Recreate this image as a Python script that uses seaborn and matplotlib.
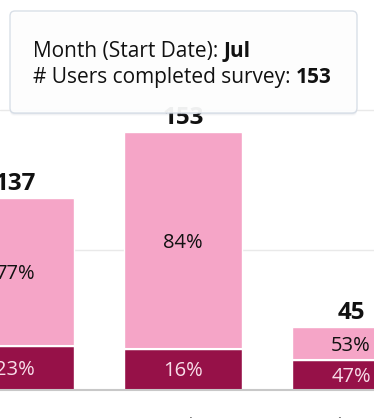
import matplotlib
matplotlib.use("Agg")
import matplotlib.pyplot as plt
from matplotlib.patches import FancyBboxPatch
from matplotlib.transforms import IdentityTransform
import pandas as pd
import seaborn as sns

# data
months = ["Jun", "Jul", "Aug"]
bar_totals = [137, 184, 45]        # drawn bar heights
total_labels = [137, 153, 45]      # numbers printed above the bars
pct_dark = [23, 16, 47]
pct_light = [77, 84, 53]
tooltip_month = "Jul"
tooltip_users = 153

PINK = "#f5a5c7"
MAROON = "#961148"

sns.set_theme(style="white")
plt.rcParams["font.family"] = ["Open Sans", "DejaVu Sans"]

df = pd.DataFrame({"month": months, "total": bar_totals})
df["dark"] = [t * p / 100 for t, p in zip(bar_totals, pct_dark)]

fig = plt.figure(figsize=(3.74, 4.18), dpi=100)
ax = fig.add_axes([0, 28 / 418, 1, 390 / 418])

sns.barplot(data=df, x="month", y="total", color=PINK, width=0.70,
            saturation=1, errorbar=None, ax=ax, zorder=2)
sns.barplot(data=df, x="month", y="dark", color=MAROON, width=0.70,
            saturation=1, errorbar=None, ax=ax, zorder=3)

ax.set_xlim(-15 / 168, 359 / 168)
ax.set_ylim(0, 390 / 1.4)
ax.set_yticks([100, 200])
ax.yaxis.grid(True, color="#e9e9e9", lw=1)
ax.set_axisbelow(True)
ax.tick_params(axis="y", labelleft=False, length=0)
ax.tick_params(axis="x", length=0, pad=19, labelsize=13.5, labelcolor="#777777")
ax.set_xlabel("")
ax.set_ylabel("")
for side in ["left", "right", "top"]:
    ax.spines[side].set_visible(False)
ax.spines["bottom"].set_color("#c8c8c8")
ax.spines["bottom"].set_linewidth(1.5)
ax.spines["bottom"].set_zorder(5)

dark_bars = ax.containers[1]
for i, p in enumerate(dark_bars):
    x0, w, h = p.get_x(), p.get_width(), p.get_height()
    cx = x0 + w / 2
    top = bar_totals[i]
    # white separator between the two segments
    ax.plot([x0, x0 + w], [h, h], color="white", lw=1.5, zorder=4)
    ax.annotate(f"{pct_dark[i]}%", (cx, h / 2), xytext=(0, -5),
                textcoords="offset points", ha="center", va="baseline",
                fontsize=14.5, color="#f8dde9", zorder=6)
    ax.annotate(f"{pct_light[i]}%", (cx, (h + top) / 2), xytext=(0, -5),
                textcoords="offset points", ha="center", va="baseline",
                fontsize=14.5, color="#111111", zorder=6)
    ax.annotate(str(total_labels[i]), (cx, top), xytext=(0, 6),
                textcoords="offset points", ha="center", va="baseline",
                fontsize=17.5, fontweight="bold", color="#111111", zorder=6)

# tooltip, in pixel coordinates (origin bottom-left)
H = 418
bx0, bx1, by0, by1 = 10, 357, H - 113, H - 11
for k, a in enumerate([0.10, 0.07, 0.04]):
    sh = FancyBboxPatch((bx0, by0 - 1 - k), bx1 - bx0, by1 - by0,
                        boxstyle="round,pad=0,rounding_size=5",
                        transform=IdentityTransform(), fc="#8090a8",
                        ec="none", alpha=a, zorder=10)
    fig.patches.append(sh)
box = FancyBboxPatch((bx0, by0), bx1 - bx0, by1 - by0,
                     boxstyle="round,pad=0,rounding_size=5",
                     transform=IdentityTransform(), fc="white",
                     ec="#d6dde6", lw=1, alpha=0.93, zorder=11)
fig.patches.append(box)

lines = [("Month (Start Date): ", tooltip_month, H - 57),
         ("# Users completed survey: ", str(tooltip_users), H - 83)]
renderer = fig.canvas.get_renderer()
for plain, bold, yb in lines:
    t = fig.text(33 / 374, yb / H, plain, fontsize=15, color="#111111",
                 va="baseline", ha="left", zorder=12)
    ext = t.get_window_extent(renderer)
    fig.text(ext.x1 / 374, yb / H, bold, fontsize=15, fontweight="bold",
             color="#111111", va="baseline", ha="left", zorder=12)

fig.savefig("out.png", dpi=100)
